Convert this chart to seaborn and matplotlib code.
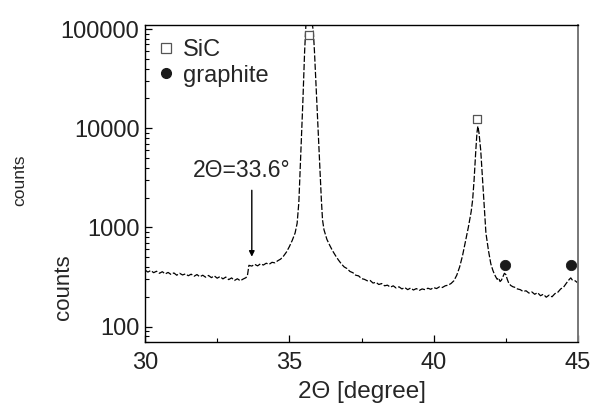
import numpy as np
import pandas as pd
import matplotlib
matplotlib.use("Agg")
import matplotlib.pyplot as plt
import seaborn as sns
from matplotlib.ticker import FixedLocator, LogLocator, NullFormatter, MultipleLocator
from matplotlib.lines import Line2D

# ---- data ----
two_theta = [
    30.0, 30.1, 30.2, 30.3, 30.4, 30.5, 30.6, 30.7, 30.8, 30.9,
    31.0, 31.1, 31.2, 31.3, 31.4, 31.5, 31.6, 31.7, 31.8, 31.9,
    32.0, 32.1, 32.2, 32.3, 32.4, 32.5, 32.6, 32.7, 32.8, 32.9,
    33.0, 33.1, 33.2, 33.3, 33.4, 33.5, 33.55, 33.6, 33.7, 33.8,
    33.9, 34.0, 34.1, 34.2, 34.3, 34.4, 34.5, 34.6, 34.7, 34.8,
    34.9, 35.0, 35.1, 35.2, 35.27, 35.33, 35.4, 35.47, 35.53, 35.58,
    35.65, 35.72, 35.78, 35.83, 35.87, 35.95, 36.03, 36.11, 36.15, 36.2,
    36.3, 36.4, 36.5, 36.6, 36.7, 36.8, 36.9, 37.0, 37.1, 37.2,
    37.3, 37.4, 37.5, 37.6, 37.7, 37.8, 37.9, 38.0, 38.1, 38.2,
    38.3, 38.4, 38.5, 38.6, 38.7, 38.8, 38.9, 39.0, 39.1, 39.2,
    39.3, 39.4, 39.5, 39.6, 39.7, 39.8, 39.9, 40.0, 40.1, 40.2,
    40.3, 40.4, 40.5, 40.6, 40.7, 40.8, 40.9, 41.0, 41.05, 41.1,
    41.2, 41.3, 41.35, 41.4, 41.46, 41.5, 41.53, 41.57, 41.63, 41.68,
    41.74, 41.81, 41.9, 41.98, 42.05, 42.1, 42.15, 42.2, 42.25, 42.3,
    42.35, 42.4, 42.45, 42.5, 42.55, 42.6, 42.67, 42.75, 42.8, 42.9,
    43.0, 43.1, 43.2, 43.3, 43.4, 43.5, 43.6, 43.7, 43.8, 43.9,
    44.0, 44.1, 44.2, 44.3, 44.4, 44.5, 44.6, 44.7, 44.75, 44.8,
    44.9, 45.0,
]
counts = [
    372, 355, 368, 350, 362, 345, 358, 340, 352, 336,
    348, 330, 345, 332, 340, 326, 338, 322, 335, 318,
    330, 315, 328, 312, 325, 308, 320, 303, 316, 298,
    310, 292, 304, 290, 302, 312, 330, 415, 408, 425,
    410, 430, 418, 436, 425, 445, 440, 462, 480, 515,
    565, 640, 740, 880, 1100, 1800, 6000, 19000, 60000, 120000,
    170000, 170000, 120000, 96000, 60000, 19000, 6000, 1890, 1190, 950,
    760, 660, 580, 520, 470, 430, 400, 385, 360, 350,
    330, 325, 305, 300, 290, 292, 275, 280, 266, 272,
    258, 262, 250, 258, 245, 252, 240, 248, 236, 245,
    234, 242, 232, 240, 236, 244, 238, 248, 242, 252,
    248, 258, 262, 272, 290, 330, 400, 520, 610, 720,
    1000, 1450, 1900, 3000, 6000, 9000, 10500, 9000, 6000, 3500,
    1900, 880, 580, 430, 370, 340, 318, 300, 310, 285,
    295, 320, 345, 335, 300, 275, 260, 252, 250, 240,
    236, 226, 230, 218, 224, 212, 220, 205, 212, 198,
    208, 200, 215, 222, 240, 250, 275, 300, 310, 296,
    290, 275,
]

sic_pos = [35.69, 41.50]
sic_val = [87000, 12500]
graphite_pos = [42.47, 44.76]
graphite_val = [415, 415]

x_ticks = [30, 35, 40, 45]
y_ticks = [100, 1000, 10000, 100000]
y_tick_labels = ["100", "1000", "10000", "100000"]

annot_text = "2\u0398=33.6\u00b0"
annot_x, annot_tip, annot_start = 33.7, 507, 2370

# ---- plot ----
sns.set_theme(style="white")
plt.rcParams["font.family"] = ["Liberation Sans", "DejaVu Sans"]

fig = plt.figure(figsize=(6.05, 4.05), dpi=100)
ax = fig.add_axes([145/605, 1-342/405, 433/605, 317/405])

df = pd.DataFrame({"x": two_theta, "y": counts})
sns.lineplot(data=df, x="x", y="y", ax=ax, color="black", lw=0.9,
             estimator=None, sort=False)
ax.lines[0].set_linestyle((0, (5, 1.6)))

sns.scatterplot(x=sic_pos, y=sic_val, ax=ax, marker="s", s=40,
                facecolor="white", edgecolor="#555555", linewidth=0.9, zorder=3)
sns.scatterplot(x=graphite_pos, y=graphite_val, ax=ax, marker="o", s=55,
                color="#1a1a1a", edgecolor="#1a1a1a", zorder=3)

ax.set_yscale("log")
ax.set_xlim(30, 45)
ax.set_ylim(70, 110000)

ax.xaxis.set_major_locator(FixedLocator(x_ticks))
ax.xaxis.set_minor_locator(MultipleLocator(2.5))
ax.set_xticklabels([str(t) for t in x_ticks])
ax.yaxis.set_major_locator(FixedLocator(y_ticks))
ax.set_yticklabels(y_tick_labels)
ax.yaxis.set_minor_locator(LogLocator(base=10, subs=np.arange(2, 10)))
ax.yaxis.set_minor_formatter(NullFormatter())

ax.tick_params(which="both", direction="in", top=False, right=False,
               left=True, bottom=True, colors="black")
ax.tick_params(which="major", length=5, width=0.9, labelsize=17)
ax.tick_params(axis="x", which="major", pad=7)
ax.tick_params(axis="y", which="major", pad=4)
ax.tick_params(which="minor", length=3, width=0.8)
for lab in ax.get_xticklabels() + ax.get_yticklabels():
    lab.set_color("#222222")

for side in ["left", "bottom", "top"]:
    ax.spines[side].set_color("black")
    ax.spines[side].set_linewidth(1.0)
ax.spines["right"].set_color("#777777")
ax.spines["right"].set_linewidth(1.4)

ax.set_xlabel("2\u0398 [degree]", fontsize=17.5, labelpad=5)
ax.set_ylabel("")

fig.text(63/605, 1-287/405, "counts", rotation=90, fontsize=16,
         ha="center", va="center")
fig.text(20/605, 1-180/405, "counts", rotation=90, fontsize=12.5,
         ha="center", va="center")

ax.annotate("", xy=(annot_x, annot_tip), xytext=(annot_x, annot_start),
            arrowprops=dict(arrowstyle="-|>", color="black", lw=1.0,
                            mutation_scale=8, shrinkA=0, shrinkB=0))
ax.text(31.67, 2900, annot_text, fontsize=16.5, ha="left", va="bottom")

handles = [
    Line2D([], [], marker="s", ls="none", markersize=6.5, markerfacecolor="white",
           markeredgecolor="#555555", markeredgewidth=0.9),
    Line2D([], [], marker="o", ls="none", markersize=7, color="#1a1a1a"),
]
ax.legend(handles, ["SiC", "graphite"], loc="upper left", frameon=False,
          fontsize=17, handlelength=0.6, handletextpad=0.4, labelspacing=0.15,
          borderaxespad=0.2, bbox_to_anchor=(0.0, 1.0))

fig.savefig("out.png", dpi=100)
